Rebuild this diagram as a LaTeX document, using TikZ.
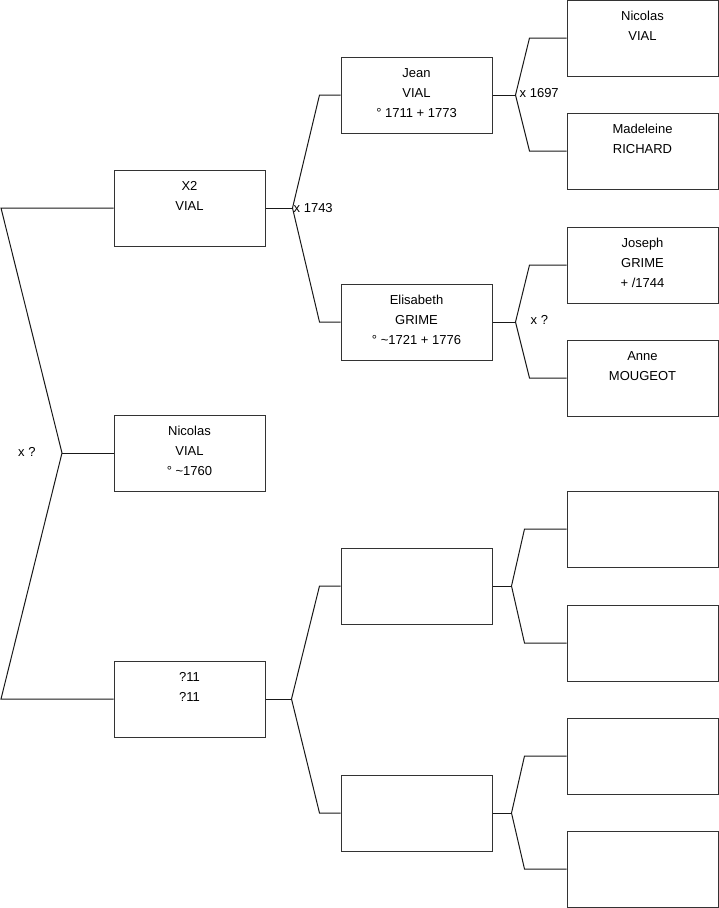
\documentclass[tikz,border=0pt]{standalone}
\usepackage{fontspec}
\setmainfont{Liberation Sans}
% three lines of a person box, text hung from the top
\newcommand{\three}[3]{\rule{0pt}{12.6pt}#1\\#2\\#3\rule[-7.4pt]{0pt}{7.4pt}}
\begin{document}
\begin{tikzpicture}[x=1pt, y=-1pt,
    person/.style={draw=black!80, line width=1pt, minimum width=151pt, minimum height=76pt,
        inner sep=0pt, align=center, font=\fontsize{13}{20}\selectfont},
    link/.style={line width=1pt, black!90},
    union/.style={font=\fontsize{13}{15}\selectfont, inner sep=1pt, anchor=west}]
    \useasboundingbox (0,0) rectangle (719,908);

    % Generation 1
    \node[person] (x2)  at (189.5,208) {\three{X2}{VIAL}{}};
    \node[person] (nic) at (189.5,453) {\three{Nicolas}{VIAL}{° {\textasciitilde}1760}};
    \node[person] (q11) at (189.5,699) {\three{?11}{?11}{}};

    % Generation 2
    \node[person] (jean) at (416.5,95)  {\three{Jean}{VIAL}{° 1711 + 1773}};
    \node[person] (elis) at (416.5,322) {\three{Elisabeth}{GRIME}{° {\textasciitilde}1721 + 1776}};
    \node[person] (s1)   at (416.5,586) {\three{}{}{}};
    \node[person] (s2)   at (416.5,813) {\three{}{}{}};

    % Generation 3
    \node[person] (nv) at (642.5,38)  {\three{Nicolas}{VIAL}{}};
    \node[person] (mr) at (642.5,151) {\three{Madeleine}{RICHARD}{}};
    \node[person] (jg) at (642.5,265) {\three{Joseph}{GRIME}{+ /1744}};
    \node[person] (am) at (642.5,378) {\three{Anne}{MOUGEOT}{}};
    \node[person] (s3) at (642.5,529) {\three{}{}{}};
    \node[person] (s4) at (642.5,643) {\three{}{}{}};
    \node[person] (s5) at (642.5,756) {\three{}{}{}};
    \node[person] (s6) at (642.5,869) {\three{}{}{}};

    % Fratrie a gauche
    \coordinate (m0) at (62,453);
    \coordinate (k1) at (1,208);
    \coordinate (k2) at (1,699);
    \draw[link] (x2.west) -- (k1) -- (m0) -- (k2) -- (q11.west);
    \draw[link] (m0) -- (nic.west);
    \node[union] (u0) at (17,452) {x ?};

    % Parents de chaque personne
    \foreach \c/\f/\m/\a/\b in {x2/jean/elis/27/21, q11/s1/s2/26/21, jean/nv/mr/23/37,
                                elis/jg/am/23/37, s1/s3/s4/19/42, s2/s5/s6/19/42} {
        \coordinate (\c-j) at ([xshift=\a pt]\c.east);
        \coordinate (\f-k) at ([xshift=-\b pt]\f.west);
        \coordinate (\m-k) at ([xshift=-\b pt]\m.west);
        \draw[link] (\f.west) -- (\f-k) -- (\c-j) -- (\m-k) -- (\m.west);
        \draw[link] (\c.east) -- (\c-j);
    }

    % Mariages
    \node[union] (u1) at (x2-j) {x 1743};
    \node[union] (u2) at ([xshift=3pt, yshift=2pt]jean-j) {x 1697};
    \node[union] (u3) at ([xshift=14pt, yshift=2pt]elis-j) {x ?};
\end{tikzpicture}
\end{document}
